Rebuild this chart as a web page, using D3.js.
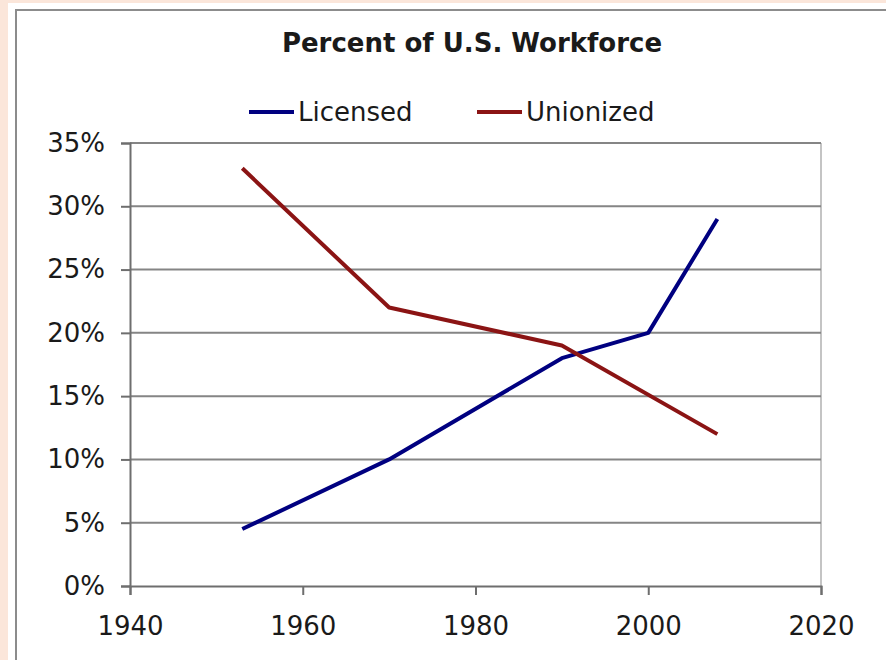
<!DOCTYPE html>
<html>
<head>
<meta charset="utf-8">
<script src="https://cdn.jsdelivr.net/npm/d3@7"></script>
<style>
  html, body { margin: 0; padding: 0; background: #fbe6da; }
  body { width: 886px; height: 660px; overflow: hidden; position: relative; }
  #frame { position: absolute; left: 8px; top: 3px; width: 890px; height: 670px; background: #fff; }
  svg { position: absolute; left: 0; top: 0; }
  text { font-family: "DejaVu Sans", Verdana, sans-serif; fill: #1a1a1a; }
</style>
</head>
<body>
<div id="frame"></div>
<svg id="chart" width="886" height="660"></svg>
<script>
// Chart data
const seriesNames = ['Licensed', 'Unionized'];
const licensedYears = [1953, 1970, 1990, 2000, 2008];
const licensedValues = [4.5, 10, 18, 20, 29];
const unionizedYears = [1953, 1970, 1990, 2008];
const unionizedValues = [33, 22, 19, 12];
const xTicks = [1940, 1960, 1980, 2000, 2020];
const yTicks = [0, 5, 10, 15, 20, 25, 30, 35];
const colors = ['#000080', '#8b1414'];

const svg = d3.select('#chart');

// outer chart border
svg.append('rect')
    .attr('x', 16).attr('y', 10)
    .attr('width', 890).attr('height', 660)
    .attr('fill', 'none')
    .attr('stroke', '#8c8c8c')
    .attr('stroke-width', 2);

const plot = { left: 130, right: 821, top: 143, bottom: 586 };

const x = d3.scaleLinear().domain([1940, 2020]).range([plot.left, plot.right]);
const y = d3.scaleLinear().domain([0, 35]).range([plot.bottom, plot.top]);

// right border of plot area
svg.append('line')
    .attr('x1', plot.right).attr('x2', plot.right)
    .attr('y1', plot.top).attr('y2', plot.bottom)
    .attr('stroke', '#c4c4c4').attr('stroke-width', 2);

// gridlines
svg.append('g')
    .selectAll('line')
    .data(yTicks.filter(d => d > 0))
    .enter()
    .append('line')
    .attr('x1', plot.left).attr('x2', plot.right)
    .attr('y1', d => y(d)).attr('y2', d => y(d))
    .attr('stroke', '#858585').attr('stroke-width', 2);

// y axis
const yAxis = svg.append('g')
    .attr('transform', `translate(${plot.left},0)`)
    .call(d3.axisLeft(y).tickValues(yTicks).tickFormat(d => d + '%').tickSize(9).tickPadding(16));

// x axis
const xAxis = svg.append('g')
    .attr('transform', `translate(0,${plot.bottom})`)
    .call(d3.axisBottom(x).tickValues(xTicks).tickFormat(d3.format('d')).tickSize(9).tickPadding(22));

[yAxis, xAxis].forEach(ax => {
    ax.select('.domain').attr('stroke', '#6e6e6e').attr('stroke-width', 2);
    ax.selectAll('.tick line').attr('stroke', '#6e6e6e').attr('stroke-width', 2);
    ax.selectAll('.tick text')
        .style('font-family', '"DejaVu Sans", Verdana, sans-serif')
        .style('font-size', '26px')
        .attr('fill', '#1a1a1a');
});

// lines
const line = d3.line().x(d => x(d[0])).y(d => y(d[1]));
const series = [
    d3.zip(licensedYears, licensedValues),
    d3.zip(unionizedYears, unionizedValues)
];

svg.append('g')
    .selectAll('path')
    .data(series)
    .enter()
    .append('path')
    .attr('d', line)
    .attr('fill', 'none')
    .attr('stroke', (d, i) => colors[i])
    .attr('stroke-width', 4)
    .attr('stroke-linejoin', 'round');

// title
svg.append('text')
    .attr('x', 472).attr('y', 52)
    .attr('text-anchor', 'middle')
    .style('font-size', '26px')
    .style('font-weight', 'bold')
    .text('Percent of U.S. Workforce');

// legend
const legendX = [249, 477];
const legend = svg.append('g')
    .selectAll('g')
    .data(seriesNames)
    .enter()
    .append('g')
    .attr('transform', (d, i) => `translate(${legendX[i]},112)`);

legend.append('line')
    .attr('x1', 0).attr('x2', 45)
    .attr('stroke', (d, i) => colors[i])
    .attr('stroke-width', 4);

legend.append('text')
    .attr('x', 49).attr('y', 9)
    .style('font-size', '26px')
    .text(d => d);
</script>
</body>
</html>
